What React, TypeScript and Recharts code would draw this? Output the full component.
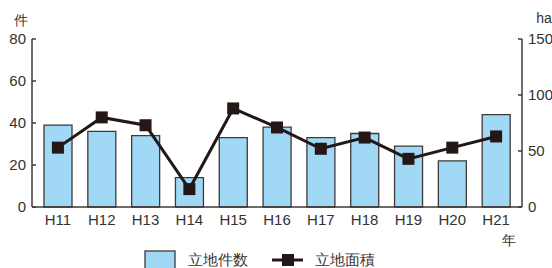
import {
  Bar,
  ComposedChart,
  Legend,
  Line,
  XAxis,
  YAxis,
} from "recharts";

const years = ["H11", "H12", "H13", "H14", "H15", "H16", "H17", "H18", "H19", "H20", "H21"];
const counts = [39, 36, 34, 14, 33, 38, 33, 35, 29, 22, 44];
const areas = [53, 80, 73, 16, 88, 71, 52, 62, 43, 53, 63];
const countTicks = [0, 20, 40, 60, 80];
const areaTicks = [0, 50, 100, 150];

const data = years.map((name, i) => ({ name, count: counts[i], area: areas[i] }));

const INK = "#3e3a39";
const BLUE = "#a0d8f5";
const LINE = "#231815";
const FONT = "'Liberation Sans', Arial, sans-serif";

const LeftTick = ({ x, y, payload }: any) => (
  <g>
    <line x1={x + 6} y1={y} x2={x + 10} y2={y} stroke={INK} strokeWidth={1.5} />
    <text x={x} y={y} dy="0.35em" textAnchor="end" fontSize={15} fill="#333" fontFamily={FONT}>
      {payload.value}
    </text>
  </g>
);

const RightTick = ({ x, y, payload }: any) => (
  <g>
    <line x1={x - 6} y1={y} x2={x - 10} y2={y} stroke={INK} strokeWidth={1.5} />
    <text x={x} y={y} dy="0.35em" textAnchor="start" fontSize={15} fill="#333" fontFamily={FONT}>
      {payload.value}
    </text>
  </g>
);

// tickSize/tickMargin are 0 on the x axis, so y is the axis line itself
const BottomTick = ({ x, y, payload }: any) => (
  <text x={x} y={y + 18} textAnchor="middle" fontSize={15} fill="#333" fontFamily={FONT}>
    {payload.value}
  </text>
);

const SquareDot = ({ cx, cy, index }: any) => (
  <rect key={index} x={cx - 6} y={cy - 6} width={12} height={12} fill={LINE} />
);

const LegendContent = () => (
  <div style={{ width: 552, height: 22, position: "relative", fontFamily: FONT }}>
    <svg width={552} height={22} style={{ display: "block" }}>
      <rect x={145} y={5} width={30} height={18} fill={BLUE} stroke={INK} strokeWidth={1.3} />
      <text x={188} y={19} fontSize={15} fill="#333">立地件数</text>
      <line x1={272} y1={14} x2={303} y2={14} stroke={LINE} strokeWidth={3} />
      <rect x={282} y={8} width={12} height={12} fill={LINE} />
      <text x={315} y={19} fontSize={15} fill="#333">立地面積</text>
    </svg>
  </div>
);

export default function App() {
  return (
    <div style={{ position: "absolute", left: 0, top: 0, background: "#fff" }}>
      <ComposedChart
        width={552}
        height={268}
        data={data}
        margin={{ top: 39, right: 0, left: 0, bottom: 0 }}
      >
        <XAxis
          dataKey="name"
          height={39}
          padding={{ left: 4, right: 4 }}
          axisLine={{ stroke: INK, strokeWidth: 1.5 }}
          tickLine={false}
          tickSize={0}
          tickMargin={0}
          tick={<BottomTick />}
          interval={0}
          label={{
            content: () => (
              <text x={509} y={245} textAnchor="middle" fontSize={14} fill="#333" fontFamily={FONT}>
                年
              </text>
            ),
          }}
        />
        <YAxis
          yAxisId="left"
          width={32}
          domain={[0, 80]}
          ticks={countTicks}
          tickSize={0}
          tickMargin={6}
          tickLine={false}
          axisLine={{ stroke: INK, strokeWidth: 1.5 }}
          tick={<LeftTick />}
          label={{
            content: () => (
              <text x={21} y={25} textAnchor="middle" fontSize={14} fill="#333" fontFamily={FONT}>
                件
              </text>
            ),
          }}
        />
        <YAxis
          yAxisId="right"
          orientation="right"
          width={30}
          domain={[0, 150]}
          ticks={areaTicks}
          tickSize={0}
          tickMargin={6}
          tickLine={false}
          axisLine={{ stroke: INK, strokeWidth: 1.5 }}
          tick={<RightTick />}
          label={{
            content: () => (
              <text x={544} y={23} textAnchor="middle" fontSize={14} fill="#333" fontFamily={FONT}>
                ha
              </text>
            ),
          }}
        />
        <Legend verticalAlign="bottom" content={<LegendContent />} />
        <Bar
          yAxisId="left"
          dataKey="count"
          name="立地件数"
          fill={BLUE}
          stroke={INK}
          strokeWidth={1.3}
          barSize={28}
          isAnimationActive={false}
        />
        <Line
          yAxisId="right"
          dataKey="area"
          name="立地面積"
          stroke={LINE}
          strokeWidth={3}
          dot={<SquareDot />}
          activeDot={false}
          isAnimationActive={false}
        />
      </ComposedChart>
    </div>
  );
}
